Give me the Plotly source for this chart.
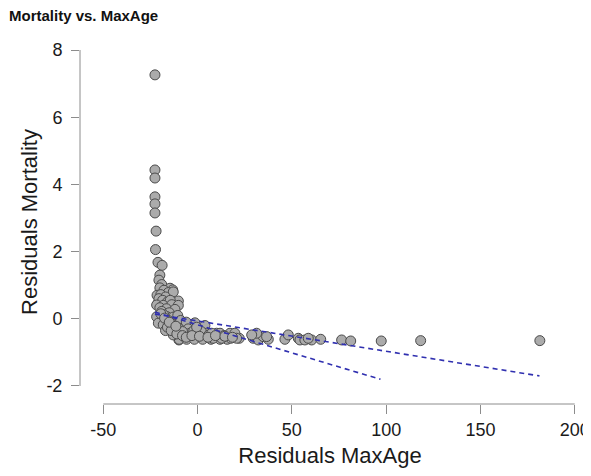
import plotly.graph_objects as go

# Data
resid_maxage = [
    -22.6, -22.6, -22.6, -22.6, -22.6, -22.6, -22.0, -22.3, -21.0, -18.8,
    -20.0, -20.5, -19.0, -20.0, -14.6, -13.2, -17.8, -15.5, -12.9, -10.2,
    -21.0, -21.5, -19.5, -17.0, -20.5, -18.5, -16.0, -14.5, -21.7, -18.2,
    -13.7, -10.2, -20.0, -16.5, -12.0, -19.0, -15.0, -21.7, -16.4, -12.9,
    -18.0, -10.5, -20.8, -18.2, -12.0, -7.6, -1.4, 3.9, -15.5, -9.0,
    -6.0, -14.0, -10.0, -5.0, -17.0, -12.9, -4.0, 0.4, 4.8, 10.1,
    -9.9, -5.8, -9.7, -5.8, -1.7, 2.7, 7.1, 11.9, 15.7, -12.9,
    -8.0, -2.0, 2.0, 6.0, 8.3, 12.8, 17.6, 22.1, 7.5, 11.9,
    17.2, 19.8, 14.0, 20.7, -16.0, -14.0, -11.0, -8.0, -6.0, -0.5,
    -19.5, -17.5, -15.0, -11.5, -3.0, 1.0, 5.5, 9.5, 14.5, 18.5,
    29.5, 32.2, 34.8, 31.3, 28.7, 37.5, 36.6, 46.3, 48.1, 53.4,
    54.3, 56.9, 60.5, 58.7, 65.3, 76.4, 81.2, 97.4, 118.3, 181.5,
]
resid_mortality = [
    7.26, 4.43, 4.19, 3.63, 3.42, 3.15, 2.61, 2.06, 1.68, 1.59,
    1.30, 1.15, 1.02, 0.92, 0.91, 0.86, 0.85, 0.78, 0.80, 0.53,
    0.46, 0.70, 0.72, 0.65, 0.60, 0.55, 0.50, 0.55, 0.41, 0.40,
    0.42, 0.40, 0.33, 0.30, 0.28, 0.22, 0.18, 0.06, 0.07, 0.05,
    0.12, 0.10, -0.13, -0.18, -0.18, -0.18, -0.12, -0.20, -0.05, -0.05,
    -0.10, -0.30, -0.28, -0.30, -0.35, -0.43, -0.43, -0.43, -0.43, -0.43,
    -0.63, -0.53, -0.61, -0.61, -0.61, -0.61, -0.61, -0.61, -0.61, -0.48,
    -0.38, -0.35, -0.38, -0.48, -0.58, -0.58, -0.58, -0.58, -0.43, -0.43,
    -0.43, -0.43, -0.50, -0.58, -0.25, -0.35, -0.45, -0.50, -0.55, -0.25,
    0.15, 0.02, -0.10, -0.22, -0.50, -0.52, -0.55, -0.50, -0.52, -0.55,
    -0.58, -0.63, -0.53, -0.43, -0.48, -0.61, -0.53, -0.61, -0.48, -0.58,
    -0.63, -0.63, -0.63, -0.58, -0.61, -0.63, -0.66, -0.66, -0.65, -0.65,
]

band_upper_x = [-22.6, 181.3]
band_upper_y = [0.14, -1.70]
band_lower_x = [-22.6, 97.0]
band_lower_y = [0.20, -1.80]

x_ticks = [-50, 0, 50, 100, 150, 200]
x_tick_labels = ["-50", "0", "50", "100", "150", "200"]
y_ticks = [-2, 0, 2, 4, 6, 8]
y_tick_labels = ["-2", "0", "2", "4", "6", "8"]

FONT = "Liberation Sans, Arial, sans-serif"
AXIS_COL = "#8c8c8c"
TXT = "#1a1a1a"

W, H = 591, 460  # page body has an 8px margin in the 591x476 window

fig = go.Figure()
fig.add_trace(go.Scatter(
    x=resid_maxage, y=resid_mortality, mode="markers",
    marker=dict(size=10, color="#ababab", line=dict(color="#4a4a4a", width=1)),
    showlegend=False, hoverinfo="skip",
))
for bx, by in [(band_upper_x, band_upper_y), (band_lower_x, band_lower_y)]:
    fig.add_trace(go.Scatter(
        x=bx, y=by, mode="lines",
        line=dict(color="#3030b0", width=1.6, dash="5px,4px"),
        showlegend=False, hoverinfo="skip",
    ))

fig.update_layout(
    width=W, height=H,
    margin=dict(l=72, r=19, t=32, b=64, autoexpand=False),
    paper_bgcolor="white", plot_bgcolor="white",
    font=dict(family=FONT, color=TXT),
    title=dict(text="<b>Mortality vs. MaxAge</b>", x=1/W, xref="container",
               xanchor="left", y=1 - 8/H, yref="container", yanchor="middle",
               font=dict(size=15, color="#111111", family=FONT)),
    xaxis=dict(range=[-62.35, 202.8], tickvals=x_ticks, ticktext=x_tick_labels,
               ticks="outside", ticklen=9, automargin=False, ticklabeloverflow="allow",
               tickcolor=AXIS_COL, tickwidth=1, showline=False, showgrid=False,
               zeroline=False, tickfont=dict(size=18, family=FONT, color=TXT),
               title=dict(text="Residuals MaxAge", font=dict(size=22, family=FONT, color=TXT),
                          standoff=16)),
    yaxis=dict(range=[-2.536, 8.298], tickvals=y_ticks, ticktext=y_tick_labels,
               ticks="outside", ticklen=8, automargin=False, ticklabelstandoff=5,
               tickcolor=AXIS_COL, tickwidth=1, showline=False, showgrid=False,
               zeroline=False, tickfont=dict(size=18, family=FONT, color=TXT),
               title=dict(text="Residuals Mortality", font=dict(size=22, family=FONT, color=TXT),
                          standoff=2)),
    shapes=[
        dict(type="line", xref="x", yref="paper", x0=-50, x1=200, y0=0, y1=0,
             line=dict(color=AXIS_COL, width=1)),
        dict(type="line", xref="paper", yref="y", x0=0, x1=0, y0=-2, y1=8,
             line=dict(color=AXIS_COL, width=1)),
    ],
)

fig.write_html("out.html")
